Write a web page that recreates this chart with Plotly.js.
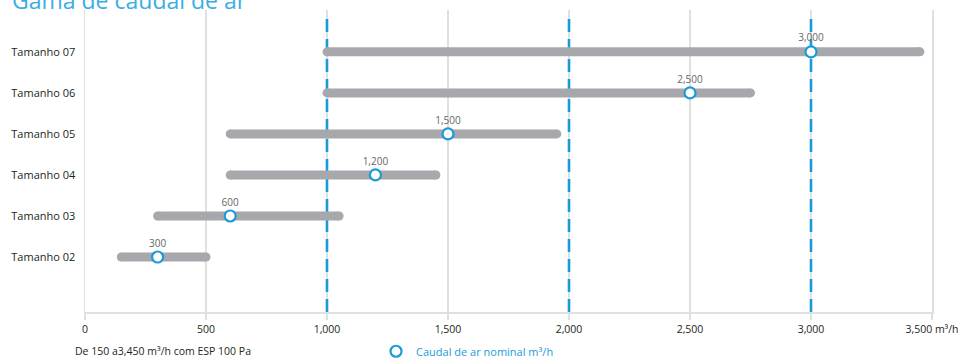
<!DOCTYPE html>
<html>
<head>
<meta charset="utf-8">
<script src="https://cdn.plot.ly/plotly-3.0.1.min.js"></script>
<style>
  html, body { margin: 0; padding: 0; background: #ffffff; }
  #chart { width: 958px; height: 360px; }
</style>
</head>
<body>
<div id="chart"></div>
<script>
// ---- data ----
const categories = ['Tamanho 02', 'Tamanho 03', 'Tamanho 04', 'Tamanho 05', 'Tamanho 06', 'Tamanho 07'];
const rangeMin = [150, 300, 600, 600, 1000, 1000];
const rangeMax = [500, 1050, 1450, 1950, 2750, 3450];
const nominal = [300, 600, 1200, 1500, 2500, 3000];
const referenceLines = [1000, 2000, 3000];
const xTickVals = [0, 500, 1000, 1500, 2000, 2500, 3000, 3500];
const xTickText = ['0', '500', '1,000', '1,500', '2,000', '2,500', '3,000', '3,500 m³/h'];
const titleText = 'Gama de caudal de ar';
const noteText = 'De 150 a3,450 m³/h com ESP 100 Pa';
const legendText = 'Caudal de ar nominal m³/h';

// ---- styles ----
const FONT = 'Open Sans, Noto Sans, sans-serif';
const GRAY_BAR = '#a7a8ab';
const BLUE = '#1a9ad9';
const GRID = '#e0e0e0';
const TEXT = '#231f20';
const Y_MIN = -1.34, Y_MAX = 6.02;
const Y_DASH_TOP = 5.9;

const yIdx = categories.map((_, i) => i);

// reference dashed lines as one path with gaps
const refX = [], refY = [];
referenceLines.forEach(v => {
  refX.push(v, v, null);
  refY.push(Y_MIN, Y_DASH_TOP, null);
});

// range bars as one path with gaps
const barX = [], barY = [];
categories.forEach((c, i) => {
  barX.push(rangeMin[i], rangeMax[i], null);
  barY.push(i, i, null);
});

const fmt = v => v.toLocaleString('en-US');

const traces = [
  {
    type: 'scatter', mode: 'lines',
    x: refX, y: refY,
    line: { color: BLUE, width: 2.6, dash: '13px,7px' },
    hoverinfo: 'skip', showlegend: false, connectgaps: false
  },
  {
    type: 'scatter', mode: 'lines+markers',
    x: barX, y: barY,
    line: { color: GRAY_BAR, width: 9 },
    marker: { color: GRAY_BAR, size: 9, line: { width: 0 } },
    hoverinfo: 'skip', showlegend: false, connectgaps: false
  },
  {
    type: 'scatter', mode: 'markers+text',
    name: legendText,
    x: nominal, y: yIdx,
    text: nominal.map(fmt),
    textposition: 'top center',
    textfont: { family: FONT, size: 10, color: '#666666' },
    marker: { symbol: 'circle', size: 11, color: '#ffffff', line: { color: BLUE, width: 2.2 } },
    showlegend: true
  }
];

const layout = {
  width: 958, height: 360,
  margin: { l: 85, r: 26, t: 10, b: 48, pad: 0, autoexpand: false },
  paper_bgcolor: '#ffffff', plot_bgcolor: '#ffffff',
  font: { family: FONT, size: 11, color: TEXT },
  xaxis: {
    range: [0, 3500],
    tickmode: 'array', tickvals: xTickVals, ticktext: xTickText,
    showgrid: true, gridcolor: GRID, gridwidth: 1.5,
    zeroline: false,
    showline: true, linecolor: GRID, linewidth: 2,
    ticks: 'outside', ticklen: 6, tickcolor: GRID, tickwidth: 1.5,
    ticklabeloverflow: 'allow',
    tickfont: { family: FONT, size: 10.5, color: TEXT },
    fixedrange: true
  },
  yaxis: {
    range: [Y_MIN, Y_MAX],
    tickmode: 'array', tickvals: yIdx, ticktext: categories,
    showgrid: false, zeroline: false,
    showline: true, mirror: true, linecolor: GRID, linewidth: 1.5,
    ticks: '', ticklabelstandoff: 6,
    tickfont: { family: FONT, size: 11, color: TEXT },
    fixedrange: true
  },
  showlegend: true,
  legend: {
    orientation: 'h', x: 0.3436, xanchor: 'left', y: -0.13, yanchor: 'middle',
    font: { family: FONT, size: 11, color: BLUE },
    bgcolor: 'rgba(0,0,0,0)'
  },
  annotations: [
    {
      xref: 'paper', yref: 'paper', x: -0.089, y: 1, xanchor: 'left', yanchor: 'bottom',
      yshift: -8, text: titleText, showarrow: false,
      font: { family: FONT, size: 23, color: '#3aaee4' }
    },
    {
      xref: 'paper', yref: 'paper', x: -0.0142, y: -0.129, xanchor: 'left', yanchor: 'middle',
      text: noteText, showarrow: false,
      font: { family: FONT, size: 10.5, color: TEXT }
    }
  ]
};

Plotly.newPlot('chart', traces, layout, { displayModeBar: false, staticPlot: true });
</script>
</body>
</html>
